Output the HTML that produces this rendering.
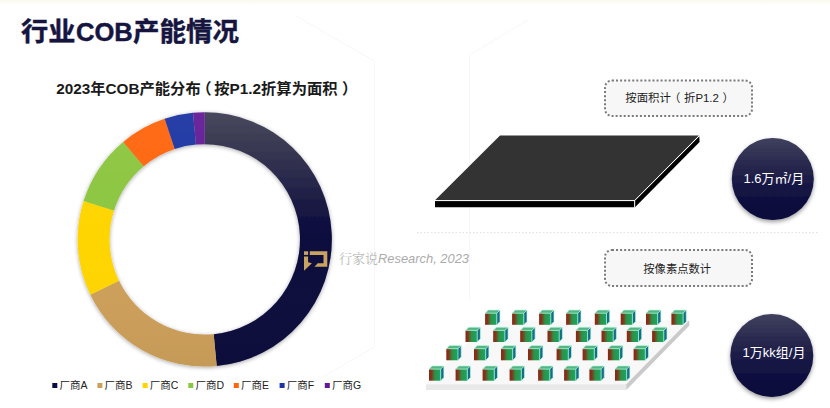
<!DOCTYPE html>
<html lang="zh-CN"><head><meta charset="utf-8"><title>行业COB产能情况</title>
<style>
html,body{margin:0;padding:0;background:#fff;}
body{width:830px;height:408px;overflow:hidden;font-family:"Liberation Sans","Noto Sans CJK SC",sans-serif;}
svg{display:block;}
text{font-family:"Liberation Sans","Noto Sans CJK SC",sans-serif;}
</style></head><body>
<svg width="830" height="408" viewBox="0 0 830 408">
<defs>
 <linearGradient id="gloss" x1="0" y1="0" x2="0" y2="1">
  <stop offset="0" stop-color="#fff" stop-opacity="0.05"/>
  <stop offset="0.5" stop-color="#fff" stop-opacity="0.0"/>
  <stop offset="1" stop-color="#000" stop-opacity="0.04"/>
 </linearGradient>
 <linearGradient id="navy" gradientUnits="userSpaceOnUse" x1="0" y1="113" x2="0" y2="367">
  <stop offset="0" stop-color="#3e3e54"/>
  <stop offset="0.2" stop-color="#2b2b49"/>
  <stop offset="0.42" stop-color="#10103f"/>
  <stop offset="0.6" stop-color="#0a0a3e"/>
  <stop offset="1" stop-color="#09093c"/>
 </linearGradient>
 <linearGradient id="topstrip" x1="0" y1="0" x2="0" y2="1">
  <stop offset="0" stop-color="#faf9ec"/>
  <stop offset="0.45" stop-color="#fdfdf7"/>
  <stop offset="1" stop-color="#ffffff"/>
 </linearGradient>
 <linearGradient id="ball" x1="0" y1="0" x2="0" y2="1">
  <stop offset="0" stop-color="#40405e"/>
  <stop offset="0.3" stop-color="#2a2a50"/>
  <stop offset="0.6" stop-color="#161644"/>
  <stop offset="1" stop-color="#07073a"/>
 </linearGradient>
 <linearGradient id="cubef" x1="0" y1="0" x2="1" y2="0">
  <stop offset="0" stop-color="#8e2410"/>
  <stop offset="0.22" stop-color="#7c3a1c"/>
  <stop offset="0.5" stop-color="#2f9048"/>
  <stop offset="1" stop-color="#16a862"/>
 </linearGradient>
 <filter id="sh" x="-20%" y="-20%" width="140%" height="140%">
  <feGaussianBlur in="SourceAlpha" stdDeviation="2.2"/>
  <feOffset dx="0" dy="1" result="b"/>
  <feComponentTransfer><feFuncA type="linear" slope="0.35"/></feComponentTransfer>
  <feMerge><feMergeNode/><feMergeNode in="SourceGraphic"/></feMerge>
 </filter>
 <filter id="sh2" x="-20%" y="-20%" width="140%" height="140%">
  <feGaussianBlur in="SourceAlpha" stdDeviation="2"/>
  <feOffset dx="0" dy="1.5" result="b"/>
  <feComponentTransfer><feFuncA type="linear" slope="0.4"/></feComponentTransfer>
  <feMerge><feMergeNode/><feMergeNode in="SourceGraphic"/></feMerge>
 </filter>
 <g id="cube">
  <polygon points="0,0 3.2,-3.2 14.9,-3.2 11.7,0" fill="#55b684"/>
  <polygon points="11.7,0 14.9,-3.2 14.9,8.4 11.7,11.6" fill="#176c86"/>
  <rect x="0" y="0" width="11.7" height="11.6" fill="url(#cubef)"/>
  <path d="M0,0 L3.2,-3.2 L14.9,-3.2 L11.7,0 Z M11.7,0 L11.7,11.6 M14.9,-3.2 L14.9,8.4 L11.7,11.6" fill="none" stroke="#b8fbe6" stroke-width="0.8" stroke-opacity="0.85"/>
 </g>
</defs>
<rect width="830" height="408" fill="#ffffff"/>
<rect width="830" height="6" fill="url(#topstrip)"/>

<g fill="none" stroke="#f7f7f7" stroke-width="1"><path d="M296,16 L374.5,61 L374.5,347 L300,390 M528,20 L469.5,55 L469.5,300"/></g>
<text y="40.6" font-size="26.4" font-weight="700" fill="#15153f" stroke="#15153f" stroke-width="0.45"><tspan x="21" textLength="54.4" lengthAdjust="spacingAndGlyphs">行业</tspan><tspan x="76" textLength="56.8" lengthAdjust="spacingAndGlyphs">COB</tspan><tspan x="133" textLength="105.9" lengthAdjust="spacingAndGlyphs">产能情况</tspan></text>
<text y="94" font-size="15.3" font-weight="700" fill="#1a1a1a"><tspan x="56.2">2023年COB产能分布</tspan><tspan x="196.3">（</tspan><tspan x="214.3">按P1.2折算为面积</tspan><tspan x="342">）</tspan></text>
<g filter="url(#sh)">
<path d="M204.75,112.30 A127.1,127.1 0 0 1 216.71,365.94 L213.71,334.18 A95.2,95.2 0 0 0 204.75,144.20 Z" fill="url(#navy)"/>
<path d="M216.71,365.94 A127.1,127.1 0 0 1 90.32,294.72 L119.04,280.83 A95.2,95.2 0 0 0 213.71,334.18 Z" fill="#cda05a"/>
<path d="M90.32,294.72 A127.1,127.1 0 0 1 83.60,200.97 L114.01,210.61 A95.2,95.2 0 0 0 119.04,280.83 Z" fill="#ffd500"/>
<path d="M83.60,200.97 A127.1,127.1 0 0 1 123.22,141.89 L143.68,166.37 A95.2,95.2 0 0 0 114.01,210.61 Z" fill="#8cc63f"/>
<path d="M123.22,141.89 A127.1,127.1 0 0 1 164.63,118.80 L174.70,149.07 A95.2,95.2 0 0 0 143.68,166.37 Z" fill="#ff650c"/>
<path d="M164.63,118.80 A127.1,127.1 0 0 1 193.01,112.84 L195.96,144.61 A95.2,95.2 0 0 0 174.70,149.07 Z" fill="#1a36a2"/>
<path d="M193.01,112.84 A127.1,127.1 0 0 1 204.75,112.30 L204.75,144.20 A95.2,95.2 0 0 0 195.96,144.61 Z" fill="#641a96"/>
</g>
<path d="M77.65,239.4 a127.1,127.1 0 1 0 254.2,0 a127.1,127.1 0 1 0 -254.2,0 Z M109.55,239.4 a95.2,95.2 0 1 1 190.4,0 a95.2,95.2 0 1 1 -190.4,0 Z" fill="url(#gloss)" fill-rule="evenodd"/>
<rect x="52.3" y="383" width="5" height="5" fill="#0b0b45"/>
<text x="59.5" y="389.3" font-size="10.5" fill="#222">厂商A</text>
<rect x="97.4" y="383" width="5" height="5" fill="#cda05a"/>
<text x="104.6" y="389.3" font-size="10.5" fill="#222">厂商B</text>
<rect x="142.6" y="383" width="5" height="5" fill="#ffd500"/>
<text x="149.8" y="389.3" font-size="10.5" fill="#222">厂商C</text>
<rect x="188.3" y="383" width="5" height="5" fill="#8cc63f"/>
<text x="195.5" y="389.3" font-size="10.5" fill="#222">厂商D</text>
<rect x="233.8" y="383" width="5" height="5" fill="#ff650c"/>
<text x="241.0" y="389.3" font-size="10.5" fill="#222">厂商E</text>
<rect x="279.6" y="383" width="5" height="5" fill="#1a36a2"/>
<text x="286.8" y="389.3" font-size="10.5" fill="#222">厂商F</text>
<rect x="324.8" y="383" width="5" height="5" fill="#641a96"/>
<text x="332.0" y="389.3" font-size="10.5" fill="#222">厂商G</text>
<g fill="#c9a460">
 <rect x="304" y="251.3" width="4.1" height="3.6"/>
 <path d="M304,256.4 h4.1 v5.8 l3.8,1 L304,270.8 z"/>
 <path d="M309.8,251.3 h17.5 v15.5 h-12.9 l3.4,-3.5 h5.7 v-8.4 h-13.7 z"/>
</g>
<text x="339" y="262.8" font-size="12.9" fill="#ababab" font-style="italic"><tspan font-family="'Liberation Serif','Noto Serif CJK SC',serif" font-style="normal" font-size="13" font-weight="300">行家说</tspan>Research, 2023</text>
<line x1="417" y1="232.6" x2="818" y2="232.6" stroke="#dedede" stroke-width="1" stroke-dasharray="1.5 2"/>
<rect x="605" y="80.5" width="147" height="35.5" rx="7" ry="7" fill="#f7f7f7" stroke="#7a7a7a" stroke-width="2" stroke-dasharray="2 2.05"/>
<text y="102.4" font-size="11.4" fill="#1c1c1c"><tspan x="625.3">按面积计</tspan><tspan x="668.9">（</tspan><tspan x="684">折P1.2</tspan><tspan x="722.4">）</tspan></text>
<rect x="605" y="250" width="147" height="36" rx="7" ry="7" fill="#f7f7f7" stroke="#7a7a7a" stroke-width="2" stroke-dasharray="2 2.05"/>
<text x="677.2" y="273.2" font-size="11.3" fill="#1c1c1c" text-anchor="middle">按像素点数计</text>
<g>
 <polygon points="500,135.6 699,135.6 634.5,200.3 435,200.3" fill="#333333"/>
 <polygon points="435,201 634.5,201 634.5,207.2 435,207.2" fill="#000"/>
 <polygon points="635,200.6 699.3,136.2 699.6,142 635,207.2" fill="#000"/>
 <path d="M435,200.6 L634.6,200.6 L699.2,135.8 M634.7,200.6 L634.7,207.2" fill="none" stroke="#fff" stroke-width="0.9"/>
</g>
<g filter="url(#sh2)"><circle cx="772.8" cy="179" r="41" fill="url(#ball)"/><circle cx="771.8" cy="355.5" r="41.5" fill="url(#ball)"/></g>
<text x="773.8" y="182.6" font-size="13" fill="#fff" text-anchor="middle">1.6万㎡/月</text>
<text x="774" y="357" font-size="13" fill="#fff" text-anchor="middle">1万kk组/月</text>
<g>
 <polygon points="489,320.4 689,320.4 626.3,384.2 426,384.2" fill="#f8f8f8"/>
 <polygon points="426,384.2 626.3,384.2 626.3,390 426,390" fill="#e9e9e9"/>
 <polygon points="626.3,384.2 689,320.4 689.4,325.4 626.3,390" fill="#cacaca"/>
</g>
<use href="#cube" x="485.1" y="313.2"/>
<use href="#cube" x="512.1" y="313.2"/>
<use href="#cube" x="539.1" y="313.2"/>
<use href="#cube" x="566.1" y="313.2"/>
<use href="#cube" x="594.8" y="313.2"/>
<use href="#cube" x="620.7" y="313.2"/>
<use href="#cube" x="646.0" y="313.2"/>
<use href="#cube" x="671.4" y="313.2"/>
<use href="#cube" x="465.5" y="330.4"/>
<use href="#cube" x="493.2" y="330.4"/>
<use href="#cube" x="520.2" y="330.4"/>
<use href="#cube" x="547.5" y="330.4"/>
<use href="#cube" x="575.9" y="330.4"/>
<use href="#cube" x="601.5" y="330.4"/>
<use href="#cube" x="626.8" y="330.4"/>
<use href="#cube" x="652.1" y="330.4"/>
<use href="#cube" x="446.3" y="348.7"/>
<use href="#cube" x="474.0" y="348.7"/>
<use href="#cube" x="501.0" y="348.7"/>
<use href="#cube" x="528.0" y="348.7"/>
<use href="#cube" x="556.6" y="348.7"/>
<use href="#cube" x="582.6" y="348.7"/>
<use href="#cube" x="607.9" y="348.7"/>
<use href="#cube" x="633.6" y="348.7"/>
<use href="#cube" x="429.0" y="369.1"/>
<use href="#cube" x="455.6" y="369.1"/>
<use href="#cube" x="482.6" y="369.1"/>
<use href="#cube" x="509.6" y="369.1"/>
<use href="#cube" x="538.1" y="369.1"/>
<use href="#cube" x="564.1" y="369.1"/>
<use href="#cube" x="589.4" y="369.1"/>
<use href="#cube" x="615.0" y="369.1"/>
</svg></body></html>
